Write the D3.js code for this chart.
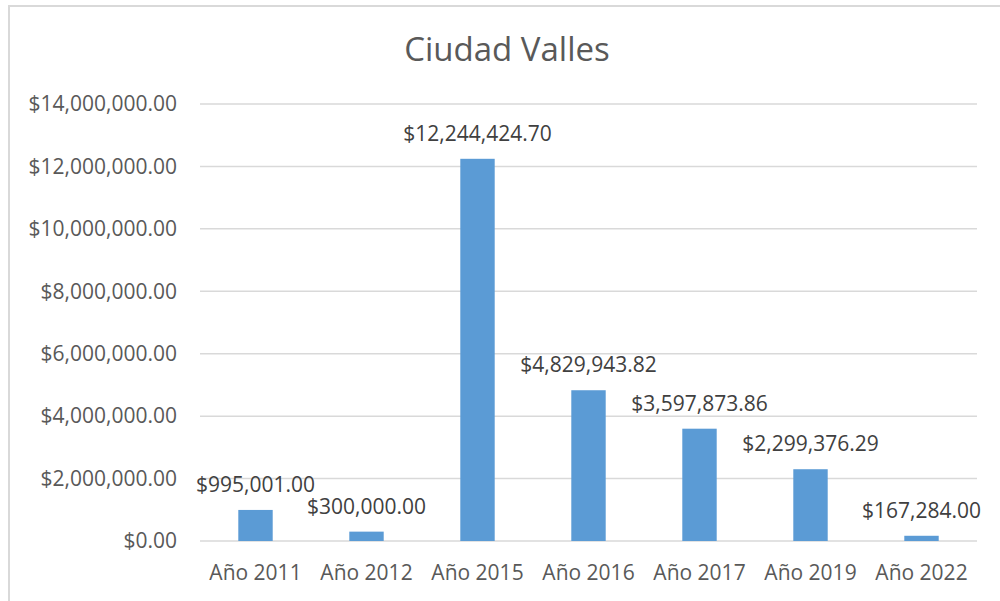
<!DOCTYPE html>
<html>
<head>
<meta charset="utf-8">
<script src="https://cdn.jsdelivr.net/npm/d3@7"></script>
<style>
  body { margin: 0; background: #fff; }
  text { font-family: "Open Sans", sans-serif; }
</style>
</head>
<body>
<div id="container"></div>
<script>
/**
 * DATA
 * */
const categories = ["Año 2011", "Año 2012", "Año 2015", "Año 2016", "Año 2017", "Año 2019", "Año 2022"];
const values = [995001.00, 300000.00, 12244424.70, 4829943.82, 3597873.86, 2299376.29, 167284.00];
const yTicks = [0, 2000000, 4000000, 6000000, 8000000, 10000000, 12000000, 14000000];
const title = "Ciudad Valles";

/**
 * CONSTANTS
 * */
const width = 1000,
  height = 601,
  margin = {top: 104, bottom: 60, left: 200, right: 23};

const money = v => "$" + d3.format(",.2f")(v);

const svg = d3.select("#container")
  .append("svg")
  .attr("width", width)
  .attr("height", height);

// chart area border (cropped on the right and bottom)
svg.append("rect")
  .attr("x", 9)
  .attr("y", 6)
  .attr("width", width + 20)
  .attr("height", height + 20)
  .attr("fill", "none")
  .attr("stroke", "#d9d9d9")
  .attr("stroke-width", 2);

const x = d3.scaleBand()
  .domain(categories)
  .range([margin.left, width - margin.right])
  .paddingInner(0.69)
  .paddingOuter(0.345);

const y = d3.scaleLinear()
  .domain([0, 14000000])
  .range([height - margin.bottom, margin.top]);

// gridlines
svg.append("g")
  .selectAll("line")
  .data(yTicks)
  .join("line")
  .attr("x1", margin.left)
  .attr("x2", width - margin.right)
  .attr("y1", d => y(d))
  .attr("y2", d => y(d))
  .attr("stroke", "#d9d9d9")
  .attr("stroke-width", 1.5);

// y axis labels
svg.append("g")
  .selectAll("text")
  .data(yTicks)
  .join("text")
  .attr("x", 177)
  .attr("y", d => y(d))
  .attr("dy", "0.35em")
  .attr("text-anchor", "end")
  .attr("fill", "#595959")
  .style("font-size", "21px")
  .text(d => money(d));

// bars
svg.append("g")
  .selectAll("rect")
  .data(values)
  .join("rect")
  .attr("x", (d, i) => x(categories[i]))
  .attr("width", x.bandwidth())
  .attr("y", d => y(d))
  .attr("height", d => y(0) - y(d))
  .attr("fill", "#5b9bd5");

// data labels
svg.append("g")
  .selectAll("text")
  .data(values)
  .join("text")
  .attr("x", (d, i) => x(categories[i]) + x.bandwidth() / 2)
  .attr("y", d => y(d) - 18)
  .attr("text-anchor", "middle")
  .attr("fill", "#404040")
  .style("font-size", "21px")
  .text(d => money(d));

// x axis labels
svg.append("g")
  .selectAll("text")
  .data(categories)
  .join("text")
  .attr("x", d => x(d) + x.bandwidth() / 2)
  .attr("y", 580)
  .attr("text-anchor", "middle")
  .attr("fill", "#595959")
  .style("font-size", "21px")
  .text(d => d);

// title
svg.append("text")
  .attr("x", 507)
  .attr("y", 61)
  .attr("text-anchor", "middle")
  .attr("fill", "#595959")
  .style("font-size", "33px")
  .text(title);
</script>
</body>
</html>
